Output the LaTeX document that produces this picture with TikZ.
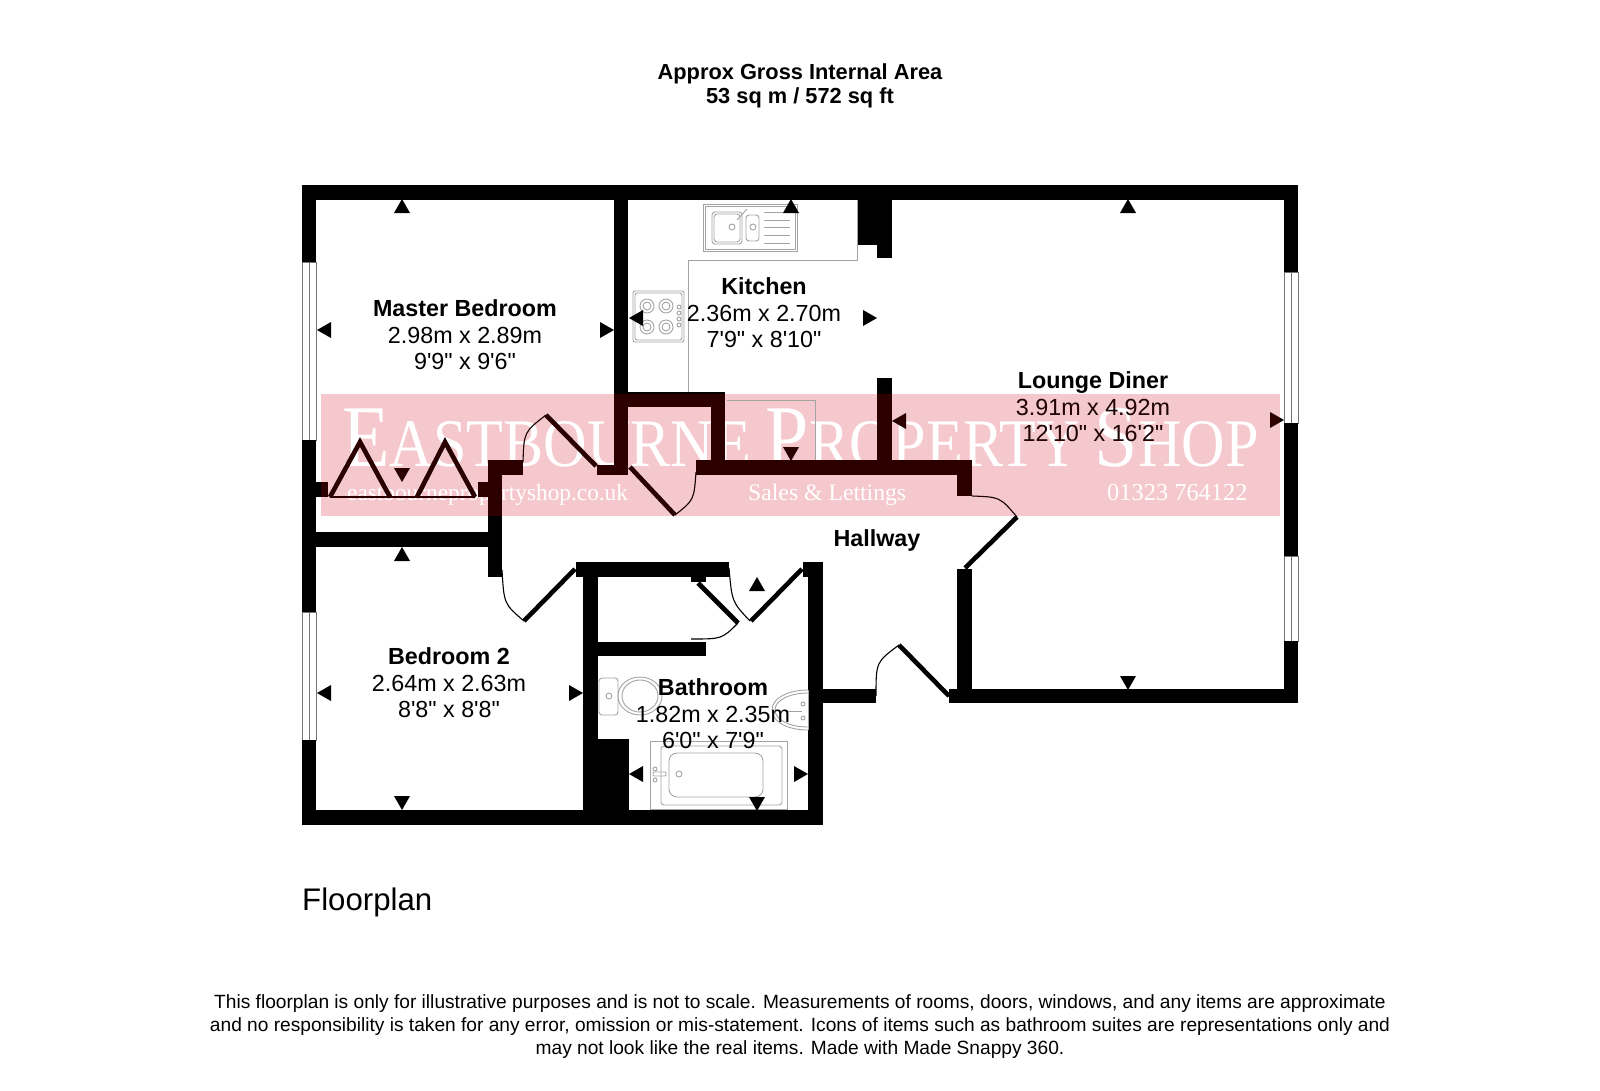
\documentclass[tikz,border=0pt]{standalone}
\usepackage{fontspec}
\setmainfont{Liberation Sans}
\newfontfamily\labelfont{Liberation Sans}
\newfontfamily\markfont{Liberation Serif}
\definecolor{markpink}{RGB}{245,200,205}
\definecolor{marktint}{RGB}{45,0,0}
\tikzset{
    wall/.style={fill=black},
    leaf/.style={draw=black, line width=4.6pt, miter limit=10},
    swing/.style={draw=black, line width=1.1pt},
    fixture/.style={draw=black!36, line width=0.9pt},
    pane/.style={draw=black!55, fill=white, line width=0.9pt},
    room/.style={font=\labelfont\fontsize{23.3}{26.4}\selectfont, align=center, inner sep=0pt},
    caption/.style={font=\fontsize{20.4}{23.4}\selectfont, align=center, inner sep=0pt},
    markword/.style={text=white, font=\markfont, inner sep=0pt, anchor=base west},
}
\begin{document}
\begin{tikzpicture}[x=1pt, y=-1pt]
    \useasboundingbox (0, 0) rectangle (1600, 1090);

    \node[caption, font=\fontsize{21.8}{24}\selectfont\bfseries] (area) at (800, 86) {Approx Gross Internal Area\\53 sq m / 572 sq ft};

    % watermark
    \fill[markpink] (321, 394) rectangle (1280, 516);
    \node[markword, xscale=0.885, transform shape] (markname) at (342, 466) {\fontsize{88}{88}\selectfont E\fontsize{68}{68}\selectfont ASTBOURNE \fontsize{88}{88}\selectfont P\fontsize{68}{68}\selectfont ROPERTY \fontsize{88}{88}\selectfont S\fontsize{68}{68}\selectfont HOP};
    \node[markword] (markweb) at (347, 500) {\fontsize{23.3}{24}\selectfont eastbournepropertyshop.co.uk};
    \node[markword] (marksales) at (748, 500) {\fontsize{23.7}{24}\selectfont Sales \& Lettings};
    \node[markword] (markphone) at (1107, 500) {\fontsize{24.4}{25}\selectfont 01323 764122};

    % windows
    \foreach \xa/\ya/\yb in {302/262/440, 302/612/740, 1284/272/423, 1284/556/641} {
        \draw[pane] (\xa, \ya) rectangle +(14, \yb-\ya);
        \draw[pane] (\xa+7, \ya) -- (\xa+7, \yb);
    }

    % walls
    \foreach \xa/\ya/\xb/\yb in {
        302/185/1298/200, 302/185/316/262, 302/440/316/612, 302/740/316/825,
        302/810/823/825, 1284/185/1298/272, 1284/423/1298/556, 1284/641/1298/703,
        949/689/1298/703, 808/562/823/825, 576/562/729/577, 691/577/706/582,
        803/562/808/577, 583/562/598/825, 583/739/629/810, 598/642/706/656,
        823/689/876/703, 957/569/972/703, 696/460/972/475, 957/460/972/496,
        877/378/892/460, 857/200/892/245, 877/245/892/258, 614/200/628/475,
        614/392/725/407, 711/392/725/460, 597/465/628/475, 488/460/523/475,
        488/460/502/577, 316/532/488/547, 316/482/328/497, 478/482/488/497} {
        \fill[wall] (\xa, \ya) rectangle (\xb, \yb);
    }

    % door leaves and swings
    \draw[leaf] (330, 497) -- (360, 442) -- (390, 497);
    \draw[leaf] (417, 497) -- (445, 442) -- (475, 497);
    \draw[leaf] (546, 415) -- (596, 466);
    \draw[leaf] (630, 467) -- (675, 515);
    \draw[leaf] (575, 569) -- (524, 621);
    \draw[leaf] (698, 583) -- (738, 623);
    \draw[leaf] (802, 569) -- (751, 621);
    \draw[leaf] (899, 645) -- (949, 696);
    \draw[leaf] (965, 568) -- (1017, 517);

    \draw[swing] (330, 497) -- (475, 497);
    \draw[swing] (523, 462) .. controls (524, 432) .. (546, 415);
    \draw[swing] (675, 515) .. controls (694, 500) .. (696, 472);
    \draw[swing] (502, 570) .. controls (504, 604) .. (524, 621);
    \draw[swing] (738, 623) .. controls (722, 639) .. (691, 639);
    \draw[swing] (729, 568) .. controls (732, 602) .. (750, 621);
    \draw[swing] (876, 696) .. controls (876, 662) .. (899, 645);
    \draw[swing] (972, 496) .. controls (1000, 497) .. (1017, 517);

    % kitchen units
    \draw[fixture] (857, 200) -- (857, 260) -- (688, 260) -- (688, 392);
    \draw[fixture] (727, 400) -- (815, 400) -- (815, 460);
    \draw[fixture] (703, 204) rectangle (797, 251);
    \draw[fixture] (705, 206) rectangle (795, 249);
    \draw[fixture, rounded corners=3pt] (712, 212) rectangle (742, 244);
    \draw[fixture, rounded corners=3pt] (714, 214) rectangle (740, 242);
    \draw[fixture, rounded corners=3pt] (746, 215) rectangle (759, 241);
    \foreach \y in {212, 220, 227, 235, 243} {
        \draw[fixture] (764, \y) -- (790, \y);
    }
    \draw[fixture] (732, 227) circle (3);
    \draw[fixture] (753, 227) circle (3);
    \draw[fixture] (737, 220) -- (747, 209);
    \draw[fixture, rounded corners=2pt] (633, 291) rectangle (684, 342);
    \draw[fixture, rounded corners=2pt] (635, 293) rectangle (682, 340);
    \foreach \x/\y in {647/306, 666/306, 647/327, 666/327} {
        \draw[fixture] (\x, \y) circle (7);
        \draw[fixture] (\x, \y) circle (4);
    }
    \foreach \y in {307, 313, 319, 325} {
        \draw[fixture] (679, \y) circle (2);
    }

    % bathroom suite
    \draw[fixture, rounded corners=3pt] (599, 678) rectangle (618, 715);
    \draw[fixture] (609, 696) circle (3);
    \draw[fixture] (640, 696) ellipse (22 and 19);
    \draw[fixture] (640, 696) ellipse (18 and 16);
    \draw[fixture] (808, 690) .. controls (788, 690) and (772, 698) .. (772, 710) .. controls (772, 722) and (788, 730) .. (808, 730);
    \draw[fixture] (808, 693) .. controls (790, 693) and (775, 700) .. (775, 710) .. controls (775, 720) and (790, 727) .. (808, 727);
    \draw[fixture] (808, 690) -- (808, 730);
    \draw[fixture] (788, 711) -- (802, 711);
    \draw[fixture] (803, 704) circle (2);
    \draw[fixture] (803, 718) circle (2);
    \draw[fixture] (650, 741) rectangle (787, 809);
    \draw[fixture, rounded corners=3pt] (661, 746) rectangle (782, 805);
    \draw[fixture, rounded corners=8pt] (669, 753) rectangle (763, 797);
    \draw[fixture, rounded corners=1pt] (653, 772) rectangle (666, 776);
    \draw[fixture] (655, 769) circle (2);
    \draw[fixture] (655, 780) circle (2);
    \draw[fixture] (679, 774) circle (3);

    % dimension markers
    \foreach \x/\y/\a in {
        402/213/0, 791/213/0, 1128/213/0, 402/561/0, 757/591/0,
        402/468/180, 791/447/180, 1128/676/180, 402/796/180, 757/797/180,
        331/330/90, 643/318/90, 906/421/90, 331/693/90, 643/774/90,
        600/330/-90, 863/318/-90, 1270/420/-90, 569/693/-90, 794/774/-90} {
        \fill[shift={(\x, \y)}, rotate=\a] (-8, 0) -- (8, 0) -- (0, -14) -- cycle;
    }

    % room labels
    \node[room] (master) at (465, 335) {\textbf{Master Bedroom}\\2.98m x 2.89m\\9'9" x 9'6"};
    \node[room] (kitchen) at (764, 313) {\textbf{Kitchen}\\2.36m x 2.70m\\7'9" x 8'10"};
    \node[room] (lounge) at (1093, 407) {\textbf{Lounge Diner}\\3.91m x 4.92m\\12'10" x 16'2"};
    \node[room] (bedtwo) at (449, 683) {\textbf{Bedroom 2}\\2.64m x 2.63m\\8'8" x 8'8"};
    \node[room] (bath) at (713, 714) {\textbf{Bathroom}\\1.82m x 2.35m\\6'0" x 7'9"};
    \node[room] (hall) at (877, 540) {\textbf{Hallway}};

    \node[inner sep=0pt, font=\fontsize{31.2}{36}\selectfont, anchor=west] (plan) at (302, 902) {Floorplan};
    \node[caption, font=\fontsize{19.15}{23}\selectfont] (note) at (800, 1027) {This floorplan is only for illustrative purposes and is not to scale. Measurements of rooms, doors, windows, and any items are approximate\\and no responsibility is taken for any error, omission or mis-statement. Icons of items such as bathroom suites are representations only and\\may not look like the real items. Made with Made Snappy 360.};

    % tint of the watermark over the dark parts
    \fill[marktint, blend mode=lighten] (321, 394) rectangle (1280, 516);
\end{tikzpicture}
\end{document}
